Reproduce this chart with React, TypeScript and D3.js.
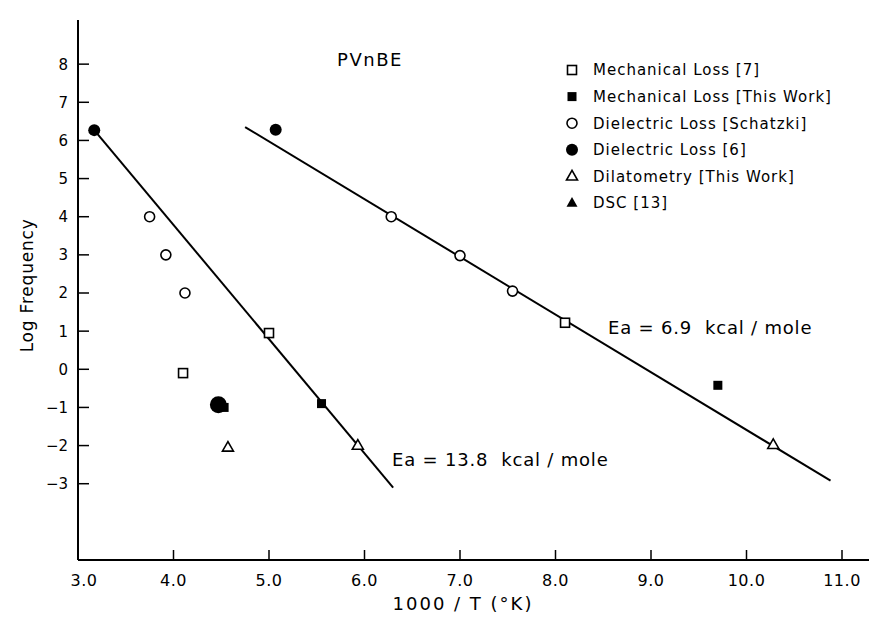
import React from "react";
import * as d3 from "d3";

const xTicks = [3, 4, 5, 6, 7, 8, 9, 10, 11];
const xTickLabels = ["3.0", "4.0", "5.0", "6.0", "7.0", "8.0", "9.0", "10.0", "11.0"];
const yTicks = [-3, -2, -1, 0, 1, 2, 3, 4, 5, 6, 7, 8];

// data points [1000/T, log f]
const mechLoss7 = [[4.1, -0.1], [5.0, 0.95], [8.1, 1.22]];
const mechLossThis = [[5.55, -0.9], [9.7, -0.42], [4.53, -1.0]];
const dielSchatzki = [[3.75, 4.0], [3.92, 3.0], [4.12, 2.0], [6.28, 4.0], [7.0, 2.98], [7.55, 2.05]];
const dielLoss6 = [[3.17, 6.27], [5.07, 6.28], [4.47, -0.93]];
const dilatometry = [[4.57, -2.05], [5.93, -2.0], [10.28, -1.98]];
const dsc = [[4.5, -1.0]];

const fitLow = [[3.17, 6.27], [6.3, -3.1]];
const fitHigh = [[4.75, 6.35], [10.88, -2.92]];

const legendItems = [
  { label: "Mechanical Loss [7]", sym: "sqOpen" },
  { label: "Mechanical Loss [This Work]", sym: "sqFill" },
  { label: "Dielectric Loss [Schatzki]", sym: "cOpen" },
  { label: "Dielectric Loss [6]", sym: "cFill" },
  { label: "Dilatometry [This Work]", sym: "tOpen" },
  { label: "DSC [13]", sym: "tFill" },
];

const FONT = "'DejaVu Sans', sans-serif";

function Marker({ sym, x, y, big }: { sym: string; x: number; y: number; big?: boolean }) {
  const sw = 1.6;
  if (sym === "sqOpen") return <rect x={x - 4.5} y={y - 4.5} width={9} height={9} fill="white" stroke="black" strokeWidth={sw} />;
  if (sym === "sqFill") return <rect x={x - 4.5} y={y - 4.5} width={9} height={9} fill="black" />;
  if (sym === "cOpen") return <circle cx={x} cy={y} r={5} fill="white" stroke="black" strokeWidth={sw} />;
  if (sym === "cFill") return <circle cx={x} cy={y} r={big ? 8.5 : 6} fill="black" />;
  const s = 11;
  const h = s * 0.87;
  const pts = `${x},${y - h * 0.62} ${x - s / 2},${y + h * 0.38} ${x + s / 2},${y + h * 0.38}`;
  if (sym === "tOpen") return <polygon points={pts} fill="white" stroke="black" strokeWidth={sw} />;
  return <polygon points={pts} fill="black" />;
}

export default function App() {
  const W = 869, H = 631;
  const x = d3.scaleLinear().domain([3, 11]).range([78, 842]);
  const y = d3.scaleLinear().domain([-5, 9]).range([560, 26]);
  const line = d3.line<number[]>().x((d) => x(d[0])).y((d) => y(d[1]));

  const series: [number[][], string][] = [
    [dsc, "tFill"],
    [mechLoss7, "sqOpen"],
    [mechLossThis, "sqFill"],
    [dielSchatzki, "cOpen"],
    [dilatometry, "tOpen"],
  ];

  return (
    <svg width={W} height={H} style={{ position: "absolute", left: 0, top: 0, background: "white" }} fontFamily={FONT}>
      <rect width={W} height={H} fill="white" />
      {/* axes */}
      <line x1={x(3)} x2={x(3)} y1={20} y2={y(-5)} stroke="black" strokeWidth={2} />
      <line x1={x(3)} x2={869} y1={y(-5)} y2={y(-5)} stroke="black" strokeWidth={2} />
      {yTicks.map((t) => (
        <g key={t}>
          <line x1={x(3)} x2={x(3) + 11} y1={y(t)} y2={y(t)} stroke="black" strokeWidth={1.5} />
          <text x={x(3) - 10} y={y(t)} dy="0.36em" textAnchor="end" fontSize={15} fontWeight={500} fill="black">
            {t < 0 ? "\u2212" + Math.abs(t) : t}
          </text>
        </g>
      ))}
      {xTicks.map((t, i) => (
        <g key={t}>
          {i > 0 && <line x1={x(t)} x2={x(t)} y1={y(-5)} y2={y(-5) - 10} stroke="black" strokeWidth={1.5} />}
          <text x={x(t) + (i === 0 ? 6 : 0)} y={y(-5) + 26} textAnchor="middle" fontSize={16} fill="black" letterSpacing={0.5}>
            {xTickLabels[i]}
          </text>
        </g>
      ))}
      <text x={463} y={610} textAnchor="middle" fontSize={18} fill="black" letterSpacing={2}>
        1000 / T (°K)
      </text>
      <text transform={`translate(27,${y(2.2)}) rotate(-90)`} textAnchor="middle" dy="0.35em" fontSize={17} fill="black" letterSpacing={0.8}>
        Log Frequency
      </text>

      {/* fit lines */}
      <path d={line(fitLow) || ""} fill="none" stroke="black" strokeWidth={2} />
      <path d={line(fitHigh) || ""} fill="none" stroke="black" strokeWidth={2} />

      {series.map(([pts, sym]) =>
        pts.map((p, i) => <Marker key={sym + i} sym={sym} x={x(p[0])} y={y(p[1])} />)
      )}
      {dielLoss6.map((p, i) => (
        <Marker key={"cf" + i} sym="cFill" x={x(p[0])} y={y(p[1])} big={i === 2} />
      ))}

      {/* annotations */}
      <text x={370} y={60} dy="0.35em" textAnchor="middle" fontSize={18} fill="black" letterSpacing={1.5}>
        PVnBE
      </text>
      <text x={608} y={328} dy="0.35em" fontSize={18} fill="black" letterSpacing={0.8} style={{ whiteSpace: "pre" }}>
        {"Ea = 6.9  kcal / mole"}
      </text>
      <text x={392} y={460} dy="0.35em" fontSize={18} fill="black" letterSpacing={0.8} style={{ whiteSpace: "pre" }}>
        {"Ea = 13.8  kcal / mole"}
      </text>

      {/* legend */}
      {legendItems.map((it, i) => {
        const ly = 70 + i * 26.6;
        return (
          <g key={it.label}>
            <Marker sym={it.sym} x={572} y={ly} />
            <text x={593} y={ly} dy="0.36em" fontSize={15} fill="black" letterSpacing={1}>
              {it.label}
            </text>
          </g>
        );
      })}
    </svg>
  );
}
